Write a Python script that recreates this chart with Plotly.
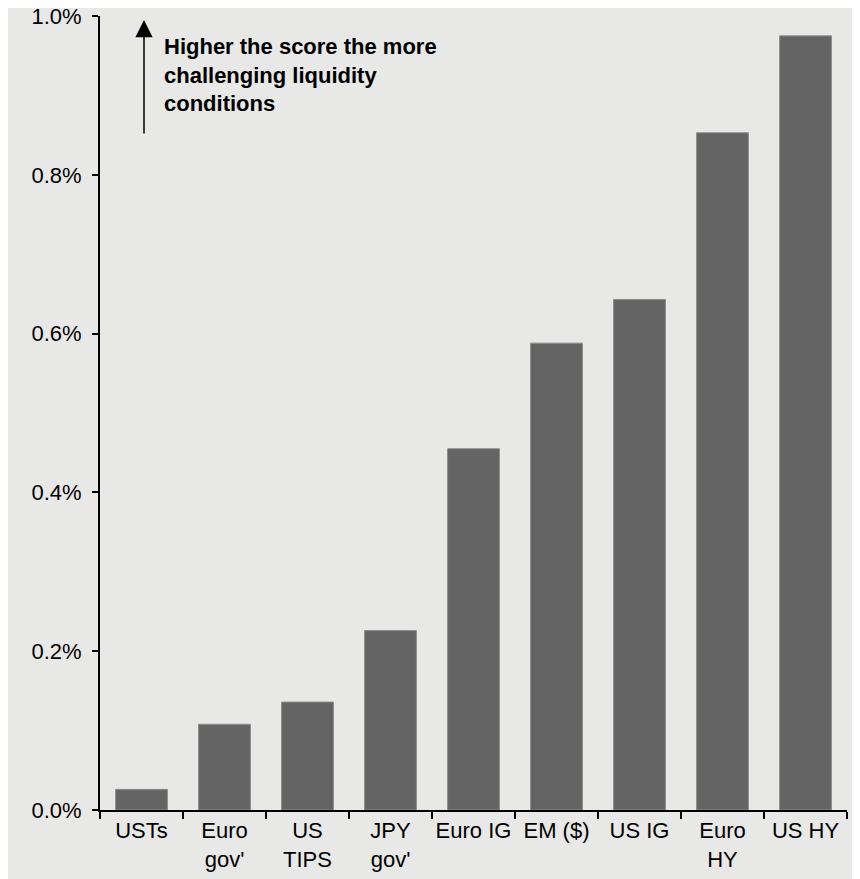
import plotly.graph_objects as go

categories = ["USTs", "Euro<br>gov'", "US<br>TIPS", "JPY<br>gov'", "Euro IG", "EM ($)", "US IG", "Euro<br>HY", "US HY"]
values = [0.026, 0.108, 0.136, 0.226, 0.455, 0.588, 0.643, 0.853, 0.975]
y_ticks = [0.0, 0.2, 0.4, 0.6, 0.8, 1.0]
y_tick_labels = ["0.0%", "0.2%", "0.4%", "0.6%", "0.8%", "1.0%"]
note = "Higher the score the more<br>challenging liquidity<br>conditions"

W, H = 860, 879
OFF = 8  # page body margin
L, T = 100 - OFF, 16 - OFF
plot_right, plot_bottom = 847 - OFF, 810 - OFF
R, B = W - plot_right, H - plot_bottom
pw, ph = plot_right - L, plot_bottom - T

def px_x(p):
    return (p - OFF - L) / pw

def px_y(p):
    return (plot_bottom - (p - OFF)) / ph

BG = "#e8e8e6"
FONT = "Liberation Sans, Arial, sans-serif"

fig = go.Figure(go.Bar(
    x=categories, y=values,
    marker=dict(color="#646464", line=dict(color="#8e8e8e", width=1)),
    hoverinfo="skip",
))

fig.update_layout(
    width=W, height=H,
    margin=dict(l=L, r=R, t=T, b=B, autoexpand=False),
    paper_bgcolor=BG,
    plot_bgcolor=BG,
    bargap=0.375,
    showlegend=False,
    font=dict(family=FONT, size=22, color="black"),
    xaxis=dict(
        type="category", tickson="boundaries", ticks="outside", ticklen=7,
        tickwidth=2, tickcolor="black", showline=True, linecolor="black",
        linewidth=2, showgrid=False, tickangle=0,
        tickfont=dict(size=22, family=FONT),
        range=[-0.5, len(categories) - 0.5], fixedrange=True,
    ),
    yaxis=dict(
        range=[0, 1.0], tickvals=y_ticks, ticktext=y_tick_labels,
        ticks="outside", ticklen=6, tickwidth=2, tickcolor="black",
        showline=True, linecolor="black", linewidth=2, showgrid=False,
        zeroline=False, tickfont=dict(size=22, family=FONT), ticklabelstandoff=6,
        ticklabeloverflow="allow",
    ),
    annotations=[
        dict(
            xref="paper", yref="paper", x=px_x(144), y=px_y(20),
            ax=0, ay=115, axref="pixel", ayref="pixel", text="",
            showarrow=True, arrowhead=2, arrowsize=2.3, arrowwidth=1.5,
            arrowcolor="black", standoff=0,
        ),
        dict(
            xref="paper", yref="paper", x=px_x(162), y=px_y(32),
            xanchor="left", yanchor="top", align="left", showarrow=False,
            text="<b>" + note + "</b>",
            font=dict(size=22, family=FONT, color="black"),
        ),
    ],
)

fig.write_html("out.html")
